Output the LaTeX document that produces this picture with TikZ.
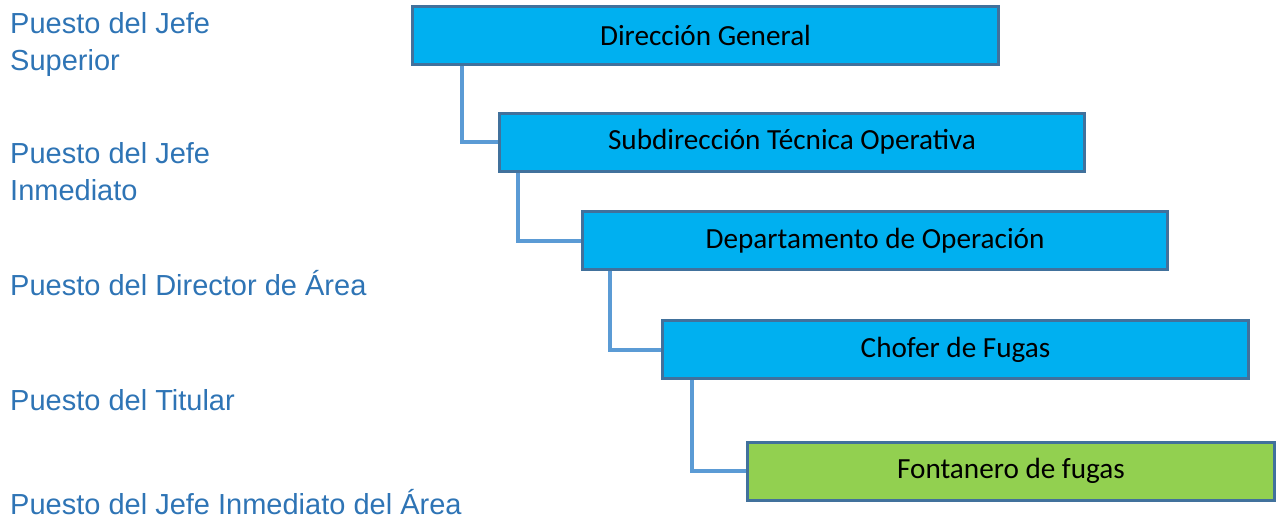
\documentclass[tikz,border=0pt]{standalone}
\usepackage{fontspec}
\setmainfont{Carlito}
\newfontfamily\labelfont{Liberation Sans}
\usetikzlibrary{calc}
\definecolor{boxblue}{HTML}{00B0F0}
\definecolor{boxgreen}{HTML}{92D050}
\definecolor{boxline}{HTML}{41719C}
\definecolor{linkblue}{HTML}{5B9BD5}
\definecolor{textblue}{HTML}{2E74B5}
\tikzset{
  puesto/.style={draw=boxline,line width=3pt,fill=boxblue,minimum height=58pt,inner sep=0pt,font=\fontsize{29.2}{35}\selectfont},
  nivel/.style={anchor=base west,inner sep=0pt,align=left,text=textblue,font=\labelfont\fontsize{29}{37}\selectfont},
  enlace/.style={draw=linkblue,line width=4pt}
}
\begin{document}
\begin{tikzpicture}[x=1pt,y=-1pt]
\useasboundingbox (0,0) rectangle (1279,520);
\node[nivel] (L1) at (10,70) {Puesto del Jefe\\Superior};
\node[nivel] (L2) at (10,200) {Puesto del Jefe\\Inmediato};
\node[nivel] (L3) at (10,295) {Puesto del Director de Área};
\node[nivel] (L4) at (10,410) {Puesto del Titular};
\node[nivel] (L5) at (10,514) {Puesto del Jefe Inmediato del Área};
\node[puesto,minimum width=586pt] (dir) at (705.5,35) {Dirección General};
\node[puesto,minimum width=585pt] (sub) at (792,142) {Subdirección Técnica Operativa};
\node[puesto,minimum width=585pt] (dep) at (875,240.5) {Departamento de Operación};
\node[puesto,minimum width=586pt] (cho) at (955.5,349.5) {Chofer de Fugas};
\node[puesto,minimum width=527pt,fill=boxgreen] (fon) at (1011,471) {Fontanero de fugas};
\draw[enlace] ([xshift=51pt]dir.south west) |- (sub.west);
\draw[enlace] ([xshift=20pt]sub.south west) |- (dep.west);
\draw[enlace] ([xshift=29pt]dep.south west) |- (cho.west);
\draw[enlace] ([xshift=31pt]cho.south west) |- (fon.west);
\end{tikzpicture}
\end{document}
